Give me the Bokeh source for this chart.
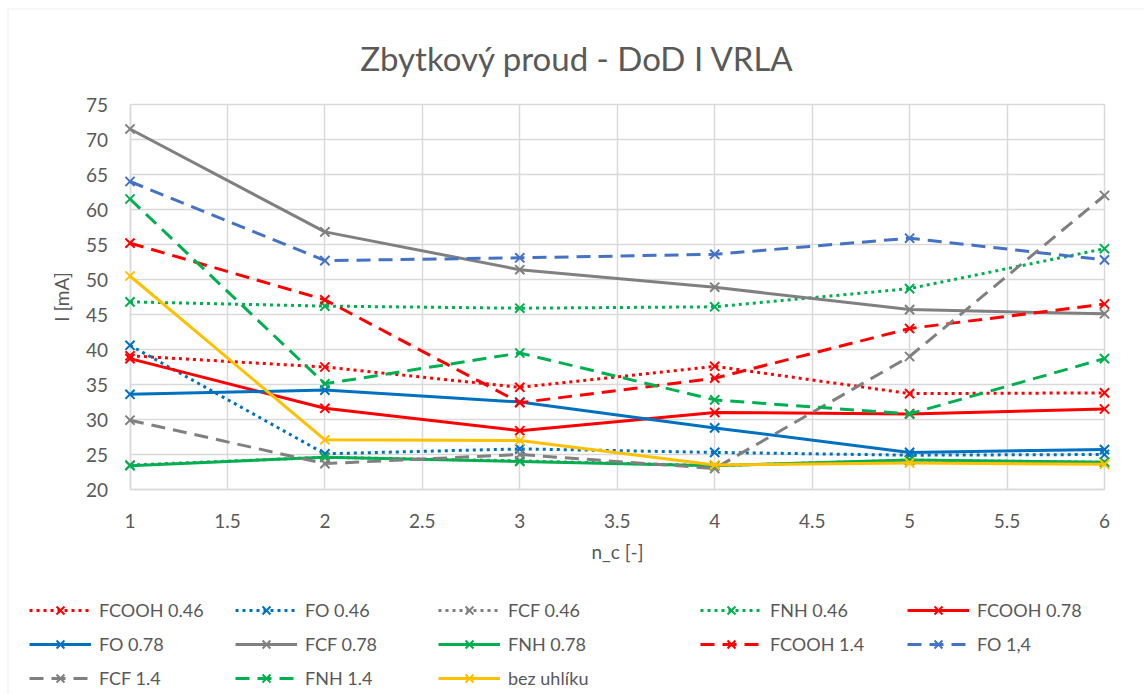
from bokeh.plotting import figure
from bokeh.models import Legend, LegendItem, Label, FixedTicker, Range1d, BoxAnnotation
from bokeh.embed import file_html
from bokeh.resources import INLINE

# ---- data ----
n_c = [1, 2, 3, 4, 5, 6]
x_ticks = [1, 1.5, 2, 2.5, 3, 3.5, 4, 4.5, 5, 5.5, 6]
x_tick_labels = ["1", "1.5", "2", "2.5", "3", "3.5", "4", "4.5", "5", "5.5", "6"]
y_ticks = [20, 25, 30, 35, 40, 45, 50, 55, 60, 65, 70, 75]

series_names = ["FCOOH 0.46", "FO 0.46", "FCF 0.46", "FNH 0.46", "FCOOH 0.78",
                "FO 0.78", "FCF 0.78", "FNH 0.78", "FCOOH 1.4", "FO 1,4",
                "FCF 1.4", "FNH 1.4", "bez uhlíku"]

fcooh_046 = [39.1, 37.5, 34.6, 37.6, 33.7, 33.8]
fo_046 = [40.6, 25.1, 25.8, 25.3, 24.9, 25.0]
fcf_046 = [23.5, 24.6, 24.1, 23.4, 24.2, 23.9]
fnh_046 = [46.8, 46.2, 45.9, 46.1, 48.7, 54.4]
fcooh_078 = [38.7, 31.6, 28.4, 31.0, 30.8, 31.5]
fo_078 = [33.6, 34.2, 32.5, 28.8, 25.3, 25.7]
fcf_078 = [71.5, 56.8, 51.4, 48.9, 45.7, 45.1]
fnh_078 = [23.4, 24.6, 24.0, 23.4, 24.2, 23.9]
fcooh_14 = [55.2, 47.1, 32.4, 35.9, 43.0, 46.5]
fo_14 = [64.0, 52.7, 53.1, 53.6, 55.9, 52.8]
fcf_14 = [29.9, 23.7, 25.0, 23.0, 39.0, 62.0]
fnh_14 = [61.5, 35.1, 39.5, 32.8, 30.8, 38.7]
bez_uhliku = [50.5, 27.1, 27.0, 23.5, 23.8, 23.6]

series_values = [fcooh_046, fo_046, fcf_046, fnh_046, fcooh_078, fo_078, fcf_078,
                 fnh_078, fcooh_14, fo_14, fcf_14, fnh_14, bez_uhliku]

# ---- styles ----
RED, BLUE, BLUE2, GRAY, GREEN, YELLOW = "#FF0000", "#0070C0", "#4472C4", "#808080", "#00B050", "#FFC000"
DOT, DASH, SOLID = "3 4", "14 8", "solid"
styles = [(RED, DOT), (BLUE, DOT), (GRAY, DOT), (GREEN, DOT), (RED, SOLID),
          (BLUE, SOLID), (GRAY, SOLID), (GREEN, SOLID), (RED, DASH), (BLUE2, DASH),
          (GRAY, DASH), (GREEN, DASH), (YELLOW, SOLID)]

FONT = "Lato"
TXT = "#595959"
GRIDC = "#D9D9D9"

# canvas and plot-area geometry (canvas pixels)
W, H = 1144, 694
PL, PR, PT, PB = 129.5, 1104.0, 104.0, 489.0
X0, X1, Y0, Y1 = 1, 6, 20, 75
kx = (PR - PL) / (X1 - X0)
ky = (PB - PT) / (Y1 - Y0)
xs, xe = X0 - PL / kx, X1 + (W - PR) / kx
ys, ye = Y0 - (H - PB) / ky, Y1 + PT / ky

p = figure(width=W, height=H, output_backend="svg", toolbar_location=None,
           x_range=Range1d(xs, xe), y_range=Range1d(ys, ye),
           min_border_left=0, min_border_right=0, min_border_top=0, min_border_bottom=0)
p.outline_line_color = None
p.background_fill_color = "white"
p.border_fill_color = "white"
p.xgrid.visible = False
p.ygrid.visible = False

# chart-area border (top-left corner at 8px)
p.add_layout(BoxAnnotation(left=xs + 7.5 / kx, top=ye - 8.5 / ky, right=xe + 20 / kx, bottom=ys - 20 / ky,
                           fill_color=None, line_color=GRIDC, line_width=1.5, level="underlay"))

xa, ya = p.xaxis[0], p.yaxis[0]
xa.fixed_location = Y0
ya.fixed_location = X0
xa.bounds = (X0, X1)
ya.bounds = (Y0, Y1)
for ax in (xa, ya):
    ax.level = "underlay"
    ax.axis_line_color = GRIDC
    ax.axis_line_width = 1.5
    ax.major_tick_line_color = GRIDC
    ax.major_tick_line_width = 1.5
    ax.major_tick_out = 0
    ax.minor_tick_line_color = None
    ax.major_label_text_font = FONT
    ax.major_label_text_font_size = "19px"
    ax.major_label_text_color = TXT
    ax.axis_label_text_font = FONT
    ax.axis_label_text_font_size = "19px"
    ax.axis_label_text_color = TXT
    ax.axis_label_text_font_style = "normal"
xa.major_tick_in = int(PB - PT)
ya.major_tick_in = int(PR - PL)

xa.ticker = FixedTicker(ticks=x_ticks)
xa.major_label_overrides = {t: l for t, l in zip(x_ticks, x_tick_labels)}
ya.ticker = FixedTicker(ticks=y_ticks)
xa.axis_label = "n_c [-]"
ya.axis_label = "I [mA]"
xa.major_label_standoff = 24
xa.axis_label_standoff = 9
ya.major_label_standoff = 22
ya.axis_label_standoff = 10

items = []
for name, vals, (col, dash) in zip(series_names, series_values, styles):
    r1 = p.line(n_c, vals, line_color=col, line_width=3, line_dash=dash, line_join="round")
    r2 = p.scatter(n_c, vals, marker="x", size=13, line_color=col, line_width=2)
    items.append(LegendItem(label=name, renderers=[r1, r2]))

# legend: 5 columns, filled row-wise
col_x = [29, 235, 438, 700, 907]  # x where each column's glyph starts
item_h, gap = 28, 6
row1_center = 610
for c in range(5):
    col_items = items[c::5]
    n = len(col_items)
    h = n * item_h + (n - 1) * gap
    top = row1_center - item_h / 2
    bottom = top + h
    leg = Legend(items=col_items, location=(col_x[c], H - bottom),
                 orientation="vertical", padding=0, margin=0, spacing=gap,
                 glyph_width=62, glyph_height=item_h, label_height=item_h,
                 label_standoff=8, border_line_color=None, background_fill_alpha=0,
                 label_text_font=FONT, label_text_font_size="18px", label_text_color=TXT)
    p.add_layout(leg, "center")

title = Label(x=577, y=H - 57, x_units="screen", y_units="screen",
              text="Zbytkový proud - DoD I VRLA", text_align="center", text_baseline="middle",
              text_font=FONT, text_font_size="33px", text_color=TXT)
p.add_layout(title)

open("out.html", "w").write(file_html(p, INLINE))
